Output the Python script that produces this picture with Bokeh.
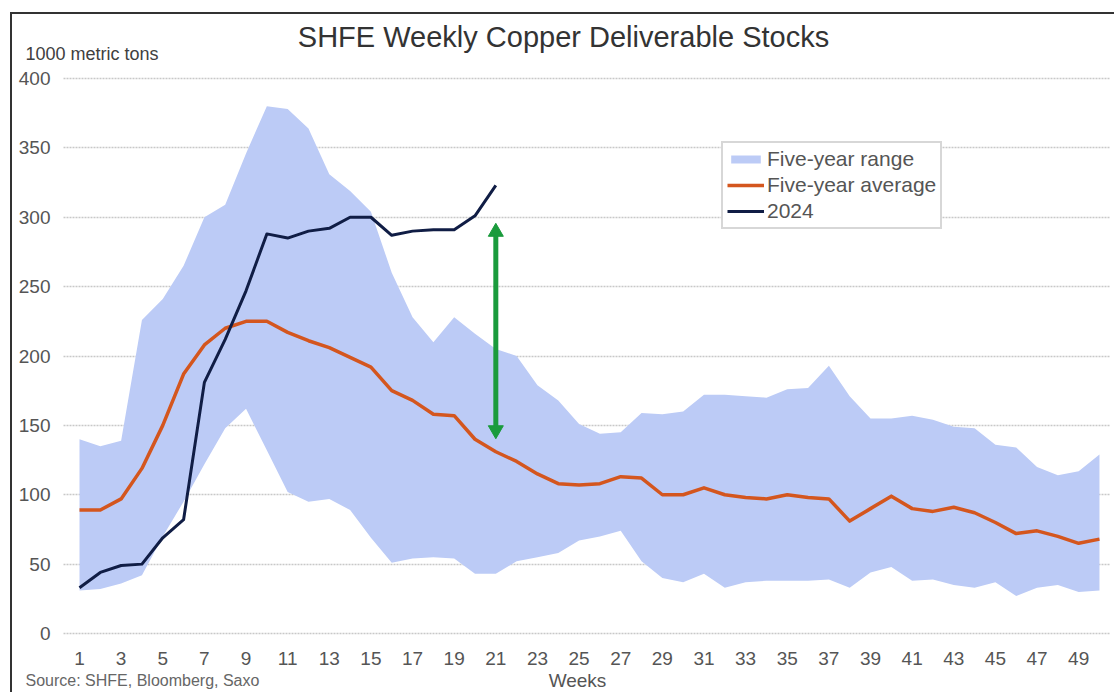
from bokeh.plotting import figure
from bokeh.models import (Range1d, FixedTicker, Label, Legend, LegendItem,
                          ColumnDataSource)
from bokeh.embed import file_html
from bokeh.resources import INLINE

# ---------------- data ----------------
weeks = list(range(1, 51))
range_high = [140, 135, 139, 226, 241, 265, 300, 309, 346, 380,
              378, 364, 331, 319, 304, 260, 228, 210, 228, 216,
              205, 200, 179, 168, 151, 144, 145, 159, 158, 160,
              172, 172, 171, 170, 176, 177, 193, 171, 155, 155,
              157, 154, 149, 148, 136, 134, 120, 114, 117, 129]
range_low = [31, 32, 36, 42, 70, 95, 122, 148, 162, 132,
             102, 95, 97, 89, 69, 51, 54, 55, 54, 43,
             43, 52, 55, 58, 67, 70, 74, 52, 40, 37,
             43, 33, 37, 38, 38, 38, 39, 33, 44, 48,
             38, 39, 35, 33, 37, 27, 33, 35, 30, 31]
five_year_avg = [89, 89, 97, 119, 150, 187, 208, 220, 225, 225,
                 217, 211, 206, 199, 192, 175, 168, 158, 157, 140,
                 131, 124, 115, 108, 107, 108, 113, 112, 100, 100,
                 105, 100, 98, 97, 100, 98, 97, 81, 90, 99,
                 90, 88, 91, 87, 80, 72, 74, 70, 65, 68]
weeks_2024 = list(range(1, 22))
stocks_2024 = [33, 44, 49, 50, 69, 82, 181, 212, 247, 288,
               285, 290, 292, 300, 300, 287, 290, 291, 291, 301, 323]

x_ticks = list(range(1, 50, 2))
y_ticks = [0, 50, 100, 150, 200, 250, 300, 350, 400]

arrow_week = 21
arrow_low = 143
arrow_high = 293

title_text = "SHFE Weekly Copper Deliverable Stocks"
unit_text = "1000 metric tons"
source_text = "Source: SHFE, Bloomberg, Saxo"
xlabel_text = "Weeks"

# ---------------- style ----------------
FONT = "Liberation Sans"
BAND = "#BCCBF6"
ORANGE = "#D4561E"
NAVY = "#101D45"
GREEN = "#1A9B3C"

W, H = 1104, 680
PX_X = 20.816          # pixels per week
PX_Y = 1.3875          # pixels per 1000 t
X0 = 1 - 67 / PX_X     # week value at the canvas' left edge
Y0 = -61 / PX_Y        # value at the canvas' bottom edge
AXIS_X = 1 - 16 / PX_X # where the value axis sits (left end of the grid)
GRID_RIGHT = 50 + 11 / PX_X

p = figure(width=W, height=H, output_backend="svg", toolbar_location=None,
           x_range=Range1d(X0, X0 + W / PX_X), y_range=Range1d(Y0, Y0 + H / PX_Y),
           min_border_left=0, min_border_right=0, min_border_top=0,
           min_border_bottom=0)
p.margin = (12, 0, 0, 10)
p.styles = {"border-top": "2px solid #333333", "border-left": "2px solid #333333"}
p.outline_line_color = None
p.background_fill_color = "white"
p.border_fill_color = "white"

band_src = ColumnDataSource(dict(x=weeks, lo=range_low, hi=range_high))
avg_src = ColumnDataSource(dict(x=weeks, y=five_year_avg))
cur_src = ColumnDataSource(dict(x=weeks_2024, y=stocks_2024))

# grid lines (only across the plotting area)
g = p.ygrid[0]
g.ticker = FixedTicker(ticks=y_ticks)
g.grid_line_color = "#c8c8c8"
g.grid_line_width = 1.5
g.grid_line_dash = "2 1"
if "cross_bounds" in g.properties():
    g.cross_bounds = (AXIS_X, GRID_RIGHT)
else:
    g.grid_line_color = None
    p.segment(x0=[AXIS_X] * len(y_ticks), y0=y_ticks,
              x1=[GRID_RIGHT] * len(y_ticks), y1=y_ticks,
              line_color="#c8c8c8", line_width=1.5, line_dash="2 1")
p.xgrid.grid_line_color = None

r_band = p.varea(x="x", y1="lo", y2="hi", source=band_src, fill_color=BAND, fill_alpha=1.0)
r_avg = p.line(x="x", y="y", source=avg_src, line_color=ORANGE, line_width=3.5,
               line_join="round")
r_cur = p.line(x="x", y="y", source=cur_src, line_color=NAVY, line_width=3,
               line_join="round")

# double-headed green arrow (shaft + two heads)
head_off = 5.0 / PX_Y
p.segment(x0=[arrow_week], y0=[arrow_low + head_off],
          x1=[arrow_week], y1=[arrow_high - head_off],
          line_color=GREEN, line_width=5)
p.scatter(x=[arrow_week], y=[arrow_high - head_off], marker="triangle",
          size=15, fill_color=GREEN, line_color=GREEN)
p.scatter(x=[arrow_week], y=[arrow_low + head_off], marker="inverted_triangle",
          size=15, fill_color=GREEN, line_color=GREEN)

# axes, pinned inside the canvas
for ax in (p.xaxis[0], p.yaxis[0]):
    ax.axis_line_color = None
    ax.major_tick_line_color = None
    ax.minor_tick_line_color = None
    ax.major_tick_out = 0
    ax.major_tick_in = 0
    ax.major_label_text_font = FONT
    ax.major_label_text_color = "#555555"
p.xaxis.fixed_location = 0
p.yaxis.fixed_location = AXIS_X
p.xaxis.ticker = FixedTicker(ticks=x_ticks)
p.yaxis.ticker = FixedTicker(ticks=y_ticks)
p.xaxis.major_label_text_font_size = "19px"
p.yaxis.major_label_text_font_size = "19px"
p.xaxis.major_label_standoff = 18
p.yaxis.major_label_standoff = 13

def add_label(text, x, y, size, color, align="left"):
    p.add_layout(Label(x=x, y=y, x_units="screen", y_units="screen", text=text,
                       text_font=FONT, text_font_size=size,
                       text_color=color, text_align=align,
                       text_baseline="middle"))

# screen positions measured from the canvas' bottom-left corner
add_label(title_text, 551, 658, "29px", "#333333", "center")
add_label(unit_text, 13, 641, "18px", "#404040")
add_label(source_text, 13, 14, "16px", "#666666")
add_label(xlabel_text, 565, 14, "19px", "#555555", "center")

legend = Legend(items=[LegendItem(label="Five-year range", renderers=[r_band]),
                       LegendItem(label="Five-year average", renderers=[r_avg]),
                       LegendItem(label="2024", renderers=[r_cur])],
                location=(709, 465), orientation="vertical",
                label_text_font=FONT, label_text_font_size="21px",
                label_text_color="#555555",
                glyph_width=37, glyph_height=10, label_height=21,
                label_standoff=3, spacing=2, padding=4, margin=0,
                border_line_color="#b0b0b0", border_line_width=2,
                background_fill_color="white", background_fill_alpha=1.0)
p.add_layout(legend)

open("out.html", "w").write(file_html(p, INLINE))
